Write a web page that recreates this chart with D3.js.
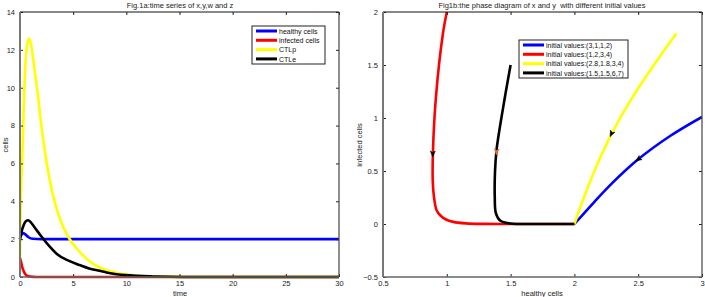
<!DOCTYPE html>
<html>
<head>
<meta charset="utf-8">
<script src="https://cdn.jsdelivr.net/npm/d3@7"></script>
<style>
  body { margin: 0; background: #fff; }
  svg { display: block; font-family: "Liberation Sans", Arial, sans-serif; }
  .tick text { font-size: 7.5px; fill: #222; }
</style>
</head>
<body>
<svg id="chart" width="705" height="297"></svg>
<script>
// ---- data: Fig.1a time series (time, value) ----
let healthyTS = [[0,2.0],[0.1,2.2],[0.3,2.32],[0.5,2.25],[0.8,2.1],[1.2,2.02],[2,2],[30,2]];
let infectedTS = [[0,1],[0.1,0.8],[0.2,0.55],[0.35,0.3],[0.5,0.15],[0.7,0.06],[1,0.02],[1.5,0],[30,0]];
let ctlpTS = [[0,1],[0.05,3],[0.1,4.5],[0.2,6],[0.3,8],[0.4,9.8],[0.5,11.2],[0.65,12.2],[0.85,12.6],
  [1.0,12.4],[1.2,11.7],[1.4,10.8],[1.6,10],[1.9,8.5],[2.3,6.8],[2.7,5.4],[3.2,4.1],[3.8,3.0],[4.6,2.06],
  [5.5,1.4],[6.5,0.85],[7.5,0.5],[8.5,0.3],[10,0.13],[11,0.07],[12,0.035],[13,0.015],[15,0.004],[20,0],[30,0]];
let ctleTS = [[0,2],[0.15,2.4],[0.35,2.75],[0.55,2.95],[0.78,3.0],[1.0,2.9],[1.4,2.6],[2,2.15],[2.8,1.6],
  [3.5,1.2],[4.4,0.9],[5.6,0.63],[6.5,0.45],[7.5,0.33],[8.5,0.2],[9.9,0.1],[11,0.06],[12.5,0.03],[14,0.01],[16,0],[30,0]];
let tsNames = ['healthy cells', 'infected cells', 'CTLp', 'CTLe'];
let timeTicks = [0,5,10,15,20,25,30];
let cellTicks = [0,2,4,6,8,10,12,14];

// ---- data: Fig1b phase diagram (healthy, infected) ----
let phaseA = [[3,1.01],[2.75,0.83],[2.5,0.61],[2.3,0.39],[2.15,0.2],[2.0,0]];
let phaseB = [[1.0,2.0],[0.97,1.8],[0.915,1.2],[0.892,0.70],[0.89,0.4],[0.9,0.25],[0.92,0.13],[0.95,0.08],
  [0.99,0.045],[1.05,0.02],[1.15,0.006],[1.3,0.001],[1.45,0],[2,0]];
let phaseC = [[2.8,1.8],[2.6,1.46],[2.45,1.185],[2.3,0.87],[2.2,0.62],[2.1,0.33],[2.0,0]];
let phaseD = [[1.5,1.5],[1.443,1.11],[1.39,0.70],[1.378,0.5],[1.376,0.25],[1.385,0.1],[1.42,0.03],[1.5,0.005],[1.7,0],[2,0]];
let phaseNames = ['initial values:(3,1,1,2)', 'initial values:(1,2,3,4)', 'initial values:(2.8,1.8,3,4)', 'initial values:(1.5,1.5,6,7)'];
// arrow positions on each trajectory [x, y, colour]
let phaseArrows = [[2.5,0.61,'#000'],[0.89,0.66,'#000'],[2.29,0.85,'#000'],[1.39,0.68,'#e8732a']];
let healthyTicks = [0.5,1,1.5,2,2.5,3];
let infectedTicks = [-0.5,0,0.5,1,1.5,2];

let colors = ['#0000ff', '#ff0000', '#ffff00', '#000000'];

let svg = d3.select('#chart');

function drawFrame(g, x, y, xt, yt, w, h, fmt) {
    //四边框 + 向内刻度
    g.append('g').attr('transform', 'translate(0,' + h + ')')
        .call(d3.axisBottom(x).tickValues(xt).tickSize(-3).tickPadding(4).tickFormat(fmt))
        .call(a => a.select('.domain').remove());
    g.append('g')
        .call(d3.axisLeft(y).tickValues(yt).tickSize(-3).tickPadding(5).tickFormat(fmt))
        .call(a => a.select('.domain').remove());
    g.append('g')
        .call(d3.axisTop(x).tickValues(xt).tickSize(-3).tickFormat(''))
        .call(a => a.select('.domain').remove());
    g.append('g').attr('transform', 'translate(' + w + ',0)')
        .call(d3.axisRight(y).tickValues(yt).tickSize(-3).tickFormat(''))
        .call(a => a.select('.domain').remove());
    g.selectAll('.tick line').attr('stroke', '#222');
    g.append('line').attr('x1', 0).attr('x2', w).attr('y1', 0).attr('y2', 0).attr('stroke', '#111');
    g.append('line').attr('x1', w).attr('x2', w).attr('y1', 0).attr('y2', h).attr('stroke', '#444').attr('stroke-width', 1.2);
    g.append('line').attr('x1', 0).attr('x2', 0).attr('y1', 0).attr('y2', h).attr('stroke', '#777').attr('stroke-width', 2);
    g.append('line').attr('x1', 0).attr('x2', w).attr('y1', h).attr('y2', h).attr('stroke', '#666').attr('stroke-width', 1.5);
}

function drawLegend(g, names, x0, y0, w, h) {
    let lg = g.append('g').attr('transform', 'translate(' + x0 + ',' + y0 + ')');
    lg.append('rect').attr('width', w).attr('height', h).attr('fill', '#fff').attr('stroke', '#222').attr('stroke-width', 1);
    names.forEach(function (n, i) {
        let yy = 5 + i * 9.3;
        lg.append('line').attr('x1', 4).attr('x2', 25).attr('y1', yy).attr('y2', yy)
            .attr('stroke', colors[i]).attr('stroke-width', 3);
        lg.append('text').attr('x', 27).attr('y', yy + 2.6).attr('font-size', 7).attr('fill', '#111').text(n);
    });
}

// ---------- Fig.1a ----------
{
    let w = 319, h = 265;
    let g = svg.append('g').attr('transform', 'translate(20,12)');
    let x = d3.scaleLinear().domain([0, 30]).range([0, w]);
    let y = d3.scaleLinear().domain([0, 14]).range([h, 0]);
    let line = d3.line().x(d => x(d[0])).y(d => y(d[1])).curve(d3.curveMonotoneX);
    [healthyTS, infectedTS, ctlpTS, ctleTS].forEach(function (s, i) {
        g.append('path').attr('d', line(s)).attr('fill', 'none')
            .attr('stroke', colors[i]).attr('stroke-width', 2.6).attr('stroke-linejoin', 'round');
    });
    drawFrame(g, x, y, timeTicks, cellTicks, w, h, d3.format('d'));
    drawLegend(g, tsNames, 232, 14, 73, 38);
    svg.append('text').attr('x', 180).attr('y', 8).attr('text-anchor', 'middle').attr('font-size', 7.5).attr('fill', '#222')
        .text('Fig.1a:time series of x,y,w and z');
    svg.append('text').attr('x', 180).attr('y', 296).attr('text-anchor', 'middle').attr('font-size', 7.5).attr('fill', '#222')
        .text('time');
    svg.append('text').attr('transform', 'translate(8,145) rotate(-90)').attr('text-anchor', 'middle')
        .attr('font-size', 7.5).attr('fill', '#222').text('cells');
}

// ---------- Fig1b ----------
{
    let w = 319, h = 265;
    let g = svg.append('g').attr('transform', 'translate(383,12)');
    let x = d3.scaleLinear().domain([0.5, 3]).range([0, w]);
    let y = d3.scaleLinear().domain([-0.5, 2]).range([h, 0]);
    let line = d3.line().x(d => x(d[0])).y(d => y(d[1])).curve(d3.curveCatmullRom.alpha(0.5));
    g.append('clipPath').attr('id', 'clipB').append('rect').attr('width', w).attr('height', h);
    let plot = g.append('g').attr('clip-path', 'url(#clipB)');
    [phaseA, phaseB, phaseC, phaseD].forEach(function (s, i) {
        plot.append('path').attr('d', line(s)).attr('fill', 'none')
            .attr('stroke', colors[i]).attr('stroke-width', 2.6).attr('stroke-linejoin', 'round');
    });
    //箭头: 指向轨迹的下一个点
    let series = [phaseA, phaseB, phaseC, phaseD];
    phaseArrows.forEach(function (a, i) {
        let s = series[i];
        let k = 0;
        while (k < s.length - 1 && s[k + 1][1] > a[1]) k++;
        let p0 = s[k], p1 = s[Math.min(k + 1, s.length - 1)];
        let ang = Math.atan2(y(p1[1]) - y(p0[1]), x(p1[0]) - x(p0[0])) * 180 / Math.PI;
        plot.append('path').attr('d', 'M3,0 L-3,-2.5 L-1.5,0 L-3,2.5 Z')
            .attr('transform', 'translate(' + x(a[0]) + ',' + y(a[1]) + ') rotate(' + ang + ')')
            .attr('fill', a[2]).attr('stroke', a[2]).attr('stroke-width', 0.5);
    });
    drawFrame(g, x, y, healthyTicks, infectedTicks, w, h, d => d3.format('')(d).replace('-', '\u2212'));
    drawLegend(g, phaseNames, 136, 28, 109, 38);
    svg.append('text').attr('x', 542).attr('y', 8).attr('text-anchor', 'middle').attr('font-size', 7.5).attr('fill', '#222')
        .attr('xml:space', 'preserve').text('Fig1b:the phase diagram of x and y  with different initial values');
    svg.append('text').attr('x', 542).attr('y', 296).attr('text-anchor', 'middle').attr('font-size', 7.5).attr('fill', '#222')
        .text('healthy cells');
    svg.append('text').attr('transform', 'translate(362,145) rotate(-90)').attr('text-anchor', 'middle')
        .attr('font-size', 7.5).attr('fill', '#222').text('infected cells');
}
</script>
</body>
</html>
